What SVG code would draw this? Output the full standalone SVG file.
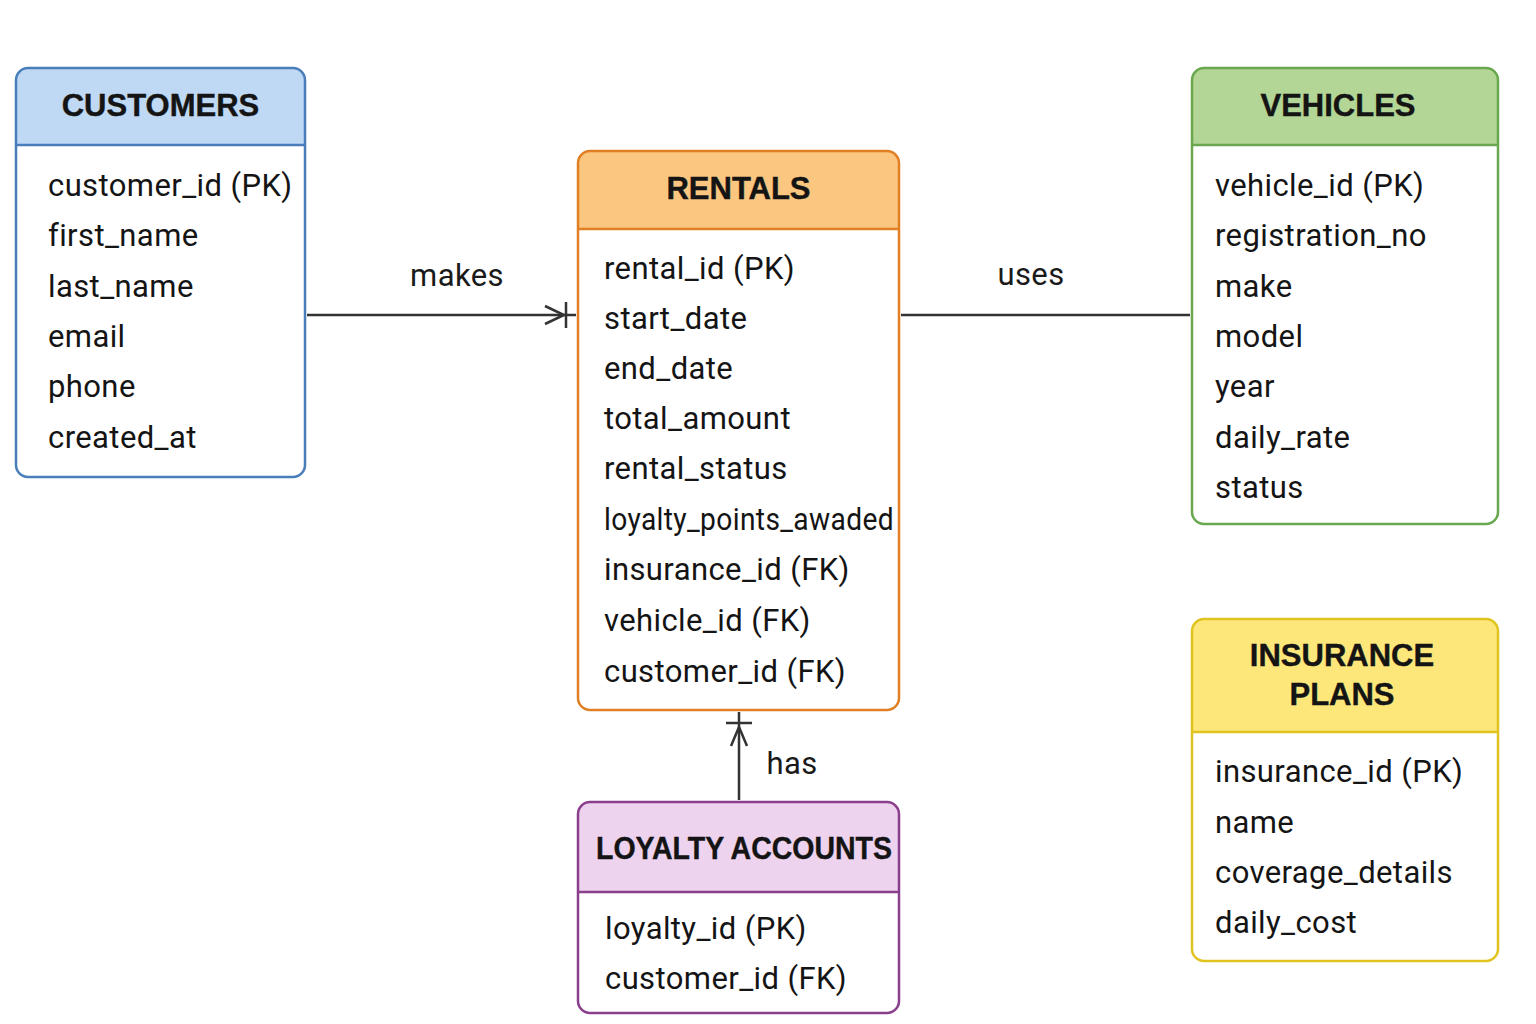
<svg xmlns="http://www.w3.org/2000/svg" width="1536" height="1024" viewBox="0 0 1536 1024">
<style>
.hd{font-family:"Liberation Sans",Arial,sans-serif;font-weight:bold;font-size:31px;fill:#141414;text-anchor:middle;stroke:#141414;stroke-width:0.4}
.fd{font-family:Roboto,"Liberation Sans",sans-serif;font-size:31px;letter-spacing:0.4px;fill:#141414}
.lb{font-family:Roboto,"Liberation Sans",sans-serif;font-size:31px;letter-spacing:0.4px;fill:#1a1a1a;text-anchor:middle}
.ln{stroke:#333;stroke-width:2.5;fill:none}
.box{stroke-width:2.5;fill:none}
</style>
<rect width="1536" height="1024" fill="#fff"/>
<g id="customers">
<rect x="16" y="68" width="289" height="409" rx="12" fill="#fff"/>
<path d="M16,145 V80 Q16,68 28,68 H293 Q305,68 305,80 V145 Z" fill="#bfd9f5"/>
<line x1="16" y1="145" x2="305" y2="145" stroke="#4a7ebb" stroke-width="2.5"/>
<rect class="box" x="16" y="68" width="289" height="409" rx="12" stroke="#4a7ebb"/>
<text class="hd" x="160.5" y="116">CUSTOMERS</text>
<text class="fd" x="48" y="196">customer_id (PK)</text>
<text class="fd" x="48" y="246">first_name</text>
<text class="fd" x="48" y="297">last_name</text>
<text class="fd" x="48" y="347">email</text>
<text class="fd" x="48" y="397">phone</text>
<text class="fd" x="48" y="448">created_at</text>
</g>
<g id="rentals">
<rect x="578" y="151" width="321" height="559" rx="12" fill="#fff"/>
<path d="M578,229 V163 Q578,151 590,151 H887 Q899,151 899,163 V229 Z" fill="#fbc67f"/>
<line x1="578" y1="229" x2="899" y2="229" stroke="#e07f24" stroke-width="2.5"/>
<rect class="box" x="578" y="151" width="321" height="559" rx="12" stroke="#e07f24"/>
<text class="hd" x="738.5" y="199">RENTALS</text>
<text class="fd" x="604" y="279">rental_id (PK)</text>
<text class="fd" x="604" y="329">start_date</text>
<text class="fd" x="604" y="379">end_date</text>
<text class="fd" x="604" y="429">total_amount</text>
<text class="fd" x="604" y="479">rental_status</text>
<text class="fd" x="604" y="530" textLength="290" lengthAdjust="spacingAndGlyphs">loyalty_points_awaded</text>
<text class="fd" x="604" y="580">insurance_id (FK)</text>
<text class="fd" x="604" y="631">vehicle_id (FK)</text>
<text class="fd" x="604" y="682">customer_id (FK)</text>
</g>
<g id="vehicles">
<rect x="1192" y="68" width="306" height="456" rx="12" fill="#fff"/>
<path d="M1192,145 V80 Q1192,68 1204,68 H1486 Q1498,68 1498,80 V145 Z" fill="#b3d595"/>
<line x1="1192" y1="145" x2="1498" y2="145" stroke="#6aa84f" stroke-width="2.5"/>
<rect class="box" x="1192" y="68" width="306" height="456" rx="12" stroke="#6aa84f"/>
<text class="hd" x="1338" y="116">VEHICLES</text>
<text class="fd" x="1215" y="196">vehicle_id (PK)</text>
<text class="fd" x="1215" y="246">registration_no</text>
<text class="fd" x="1215" y="297">make</text>
<text class="fd" x="1215" y="347">model</text>
<text class="fd" x="1215" y="397">year</text>
<text class="fd" x="1215" y="448">daily_rate</text>
<text class="fd" x="1215" y="498">status</text>
</g>
<g id="insurance_plans">
<rect x="1192" y="619" width="306" height="342" rx="12" fill="#fff"/>
<path d="M1192,732 V631 Q1192,619 1204,619 H1486 Q1498,619 1498,631 V732 Z" fill="#fde77a"/>
<line x1="1192" y1="732" x2="1498" y2="732" stroke="#e1c320" stroke-width="2.5"/>
<rect class="box" x="1192" y="619" width="306" height="342" rx="12" stroke="#e1c320"/>
<text class="hd" x="1342" y="666">INSURANCE</text>
<text class="hd" x="1342" y="705">PLANS</text>
<text class="fd" x="1215" y="782">insurance_id (PK)</text>
<text class="fd" x="1215" y="833">name</text>
<text class="fd" x="1215" y="883">coverage_details</text>
<text class="fd" x="1215" y="933">daily_cost</text>
</g>
<g id="loyalty_accounts">
<rect x="578" y="802" width="321" height="211" rx="12" fill="#fff"/>
<path d="M578,892 V814 Q578,802 590,802 H887 Q899,802 899,814 V892 Z" fill="#eed3ef"/>
<line x1="578" y1="892" x2="899" y2="892" stroke="#8a3f8c" stroke-width="2.5"/>
<rect class="box" x="578" y="802" width="321" height="211" rx="12" stroke="#8a3f8c"/>
<text class="hd" x="744" y="859" textLength="296" lengthAdjust="spacingAndGlyphs">LOYALTY ACCOUNTS</text>
<text class="fd" x="605" y="939">loyalty_id (PK)</text>
<text class="fd" x="605" y="989">customer_id (FK)</text>
</g>
<g id="connectors">
<line class="ln" x1="307" y1="315" x2="576" y2="315"/>
<polyline class="ln" points="545,306 564,315 545,324"/>
<line class="ln" x1="566" y1="302" x2="566" y2="328"/>
<text class="lb" x="457" y="286">makes</text>
<line class="ln" x1="901" y1="315" x2="1190" y2="315"/>
<text class="lb" x="1031" y="285">uses</text>
<line class="ln" x1="739" y1="800" x2="739" y2="712"/>
<polyline class="ln" points="731,746 739,727 747,746"/>
<line class="ln" x1="726" y1="723" x2="752" y2="723"/>
<text class="lb" x="792" y="774">has</text>
</g>
</svg>
